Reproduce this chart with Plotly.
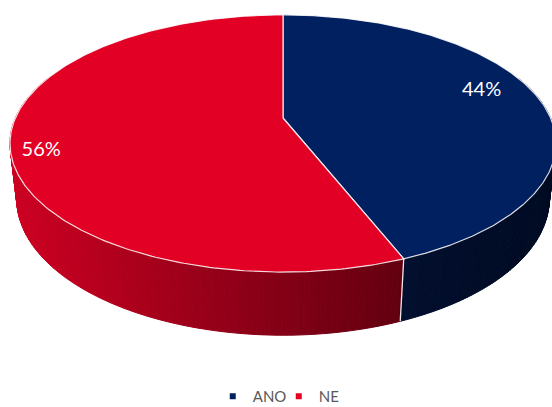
import numpy as np
import plotly.graph_objects as go

# ---- data ----
labels = ["ANO", "NE"]
values = [44, 56]
top_colors = ["#002060", "#E20024"]
side_colors_light = ["#020F2E", "#CE0022"]
side_colors_dark = ["#000A22", "#620010"]

# ---- camera / layout geometry (pixels) ----
W, Hfig = 552, 407
CX, CY = 283.0, 118.0          # screen position of the pie centre
SCALE = 267.6                  # px per radius at the centre depth
ELEV = np.radians(27.5)        # camera elevation
DIST = 4.48                    # camera distance (in radii)
THICK = 0.2356                 # pie thickness (in radii)


def proj(X, Y, Z):
    """Pinhole projection of points on the pie (radius 1, top at Z=0)."""
    X = np.asarray(X, float)
    Y = np.asarray(Y, float)
    Z = np.asarray(Z, float)
    s, c = np.sin(ELEV), np.cos(ELEV)
    depth = DIST + Y * c - Z * s
    up = Y * s + Z * c
    k = SCALE * DIST / depth
    return CX + X * k, CY - up * k


def hex_mix(c1, c2, t):
    t = min(max(t, 0.0), 1.0)
    a = [int(c1[i:i + 2], 16) for i in (1, 3, 5)]
    b = [int(c2[i:i + 2], 16) for i in (1, 3, 5)]
    m = [round(a[i] + (b[i] - a[i]) * t) for i in range(3)]
    return "#%02x%02x%02x" % tuple(m)


total = float(sum(values))
bounds = np.concatenate([[0.0], np.cumsum(values) / total * 360.0])

fig = go.Figure()

# ---- sides (painter's order: far strips first) ----
strips = []
step = 1.0
for i in range(len(values)):
    a0, a1 = bounds[i], bounds[i + 1]
    lo, hi = max(a0, 70.0), min(a1, 290.0)
    if hi <= lo:
        continue
    n = int(np.ceil((hi - lo) / step))
    edges = np.linspace(lo, hi, n + 1)
    for j in range(n):
        ta, tb = np.radians(edges[j]), np.radians(edges[j + 1])
        Xs = [np.sin(ta), np.sin(tb), np.sin(tb), np.sin(ta), np.sin(ta)]
        Ys = [np.cos(ta), np.cos(tb), np.cos(tb), np.cos(ta), np.cos(ta)]
        Zs = [0, 0, -THICK, -THICK, 0]
        sx, sy = proj(Xs, Ys, Zs)
        ymid = np.cos((ta + tb) / 2)
        strips.append((ymid, i, sx, sy))

strips.sort(key=lambda s: -s[0])
xmin_side = CX - SCALE * 1.02
xmax_side = CX + SCALE * 1.02
split_th = np.radians(bounds[1])
split_x = float(proj([np.sin(split_th)], [np.cos(split_th)], [0])[0][0])
for ymid, i, sx, sy in strips:
    xm = float(np.mean(sx[:4]))
    if i == 1:
        t = (xm - xmin_side) / (split_x - xmin_side)
    else:
        t = (xm - split_x) / (xmax_side - split_x)
    col = hex_mix(side_colors_light[i], side_colors_dark[i], t)
    fig.add_trace(go.Scatter(
        x=sx, y=sy, mode="lines", fill="toself", fillcolor=col,
        line=dict(color=col, width=1), hoverinfo="skip", showlegend=False))

# white edge on the side at each visible slice boundary
for b in bounds[:-1]:
    th = np.radians(b)
    if np.cos(th) < -0.1:
        sx, sy = proj([np.sin(th)] * 2, [np.cos(th)] * 2, [0, -THICK])
        fig.add_trace(go.Scatter(x=sx, y=sy, mode="lines",
                                 line=dict(color="rgba(255,255,255,0.9)", width=1.3),
                                 hoverinfo="skip", showlegend=False))

# ---- top faces ----
for i in range(len(values)):
    th = np.radians(np.linspace(bounds[i], bounds[i + 1], 300))
    Xs = np.concatenate([[0], np.sin(th), [0]])
    Ys = np.concatenate([[0], np.cos(th), [0]])
    sx, sy = proj(Xs, Ys, np.zeros_like(Xs))
    fig.add_trace(go.Scatter(
        x=sx, y=sy, mode="lines", fill="toself", fillcolor=top_colors[i],
        line=dict(color="rgba(255,255,255,0.85)", width=1.2),
        hoverinfo="skip", showlegend=False, name=labels[i]))

# ---- percentage labels ----
label_radius = [0.81, 0.895]
label_shift = -5.8
for i in range(len(values)):
    mid = np.radians((bounds[i] + bounds[i + 1]) / 2 + label_shift)
    r = label_radius[i]
    sx, sy = proj([r * np.sin(mid)], [r * np.cos(mid)], [0])
    fig.add_trace(go.Scatter(
        x=sx, y=sy, mode="text", text=["%d%%" % round(values[i] / total * 100)],
        textfont=dict(family="Lato", size=20, color="white"),
        hoverinfo="skip", showlegend=False))

# ---- legend entries ----
for i in range(len(values)):
    fig.add_trace(go.Scatter(
        x=[None], y=[None], mode="markers", name=labels[i],
        marker=dict(symbol="square", size=6, color=top_colors[i])))

fig.update_layout(
    width=W, height=Hfig,
    margin=dict(l=0, r=0, t=0, b=0, autoexpand=False),
    paper_bgcolor="white", plot_bgcolor="white",
    xaxis=dict(range=[0, W], visible=False, fixedrange=True),
    yaxis=dict(range=[Hfig, 0], visible=False, fixedrange=True),
    showlegend=True,
    legend=dict(orientation="h", x=0.505, xanchor="center",
                y=(Hfig - 380) / Hfig, yanchor="top",
                font=dict(family="Lato", size=15, color="#595959"),
                itemwidth=30, entrywidth=21, entrywidthmode="pixels",
                bgcolor="rgba(0,0,0,0)", traceorder="normal"),
)

fig.write_html("out.html")
